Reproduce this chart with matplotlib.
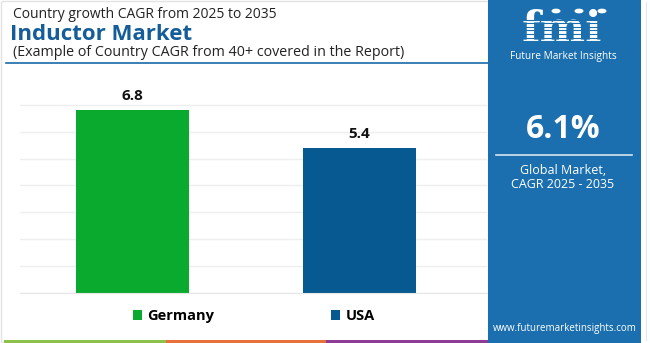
import matplotlib.pyplot as plt
from matplotlib.patches import Rectangle, Patch, Circle
from matplotlib.lines import Line2D

countries = ['Germany', 'USA']
cagr = [6.8, 5.4]
bar_colors = ['#0aaa2e', '#065a91']
global_cagr = '6.1%'

plt.rcParams['font.family'] = ['Open Sans', 'DejaVu Sans']

W, H = 650, 343
fig = plt.figure(figsize=(W / 100, H / 100), dpi=100)


def fx(px):
    return px / W


def fy(py):
    return 1 - py / H


# light frame round the chart area
fig.patches.append(Rectangle((fx(1), fy(342)), fx(487), 341 / H, transform=fig.transFigure,
                             fill=False, edgecolor='#e3e3e3', lw=1))
fig.add_artist(Line2D([fx(646), fx(646)], [fy(2), fy(340)], color='#e6e6e6', lw=0.8))

# titles
fig.text(fx(13), fy(15), 'Country growth CAGR from 2025 to 2035', fontsize=10,
         color='#222222', va='center')
fig.text(fx(10), fy(34), 'Inductor Market', fontsize=16, fontweight='bold',
         color='#155d99', va='center')
fig.text(fx(13), fy(53), '(Example of Country CAGR from 40+ covered in the Report)',
         fontsize=10.3, color='#222222', va='center')
fig.add_artist(Line2D([fx(6), fx(488)], [fy(63), fy(63)], color='#1a6aa8', lw=1.2))

# bar chart
ax = fig.add_axes([fx(20), fy(293), fx(467), 201.6 / H])
ax.bar(range(len(countries)), cagr, width=0.5, color=bar_colors, zorder=2)
ax.set_xlim(-0.496, 1.562)
ax.set_ylim(0, 7.5)
ax.set_yticks(range(0, 8))
ax.yaxis.grid(True, color='#eeeeee', lw=1, zorder=0)
ax.set_xticks([])
ax.tick_params(left=False, labelleft=False)
for s in ['top', 'right', 'left']:
    ax.spines[s].set_visible(False)
ax.spines['bottom'].set_color('#e6e6e6')
for i, v in enumerate(cagr):
    ax.annotate(f'{v}', (i, v), xytext=(0, 5), textcoords='offset points',
                ha='center', va='bottom', fontsize=11, fontweight='bold', color='#111111')

# legend
handles = [Patch(facecolor=c, edgecolor='none') for c in bar_colors]
fig.legend(handles, countries, loc='center', bbox_to_anchor=(fx(254), fy(316)), ncol=2,
           frameon=False, handlelength=0.62, handleheight=0.62, handletextpad=0.35,
           columnspacing=8, prop={'weight': 'bold', 'size': 10.5})

# bottom colour strips
for x0, x1, c in [(4, 166, '#8cc24a'), (166, 326, '#e8703a'), (326, 488, '#8e3b96')]:
    fig.patches.append(Rectangle((fx(x0), 0), fx(x1 - x0), 3 / H, transform=fig.transFigure,
                                 facecolor=c, edgecolor='none'))

# side panel
panel = '#1b6fae'
fig.patches.append(Rectangle((fx(488), 0), fx(153), 1, transform=fig.transFigure,
                             facecolor=panel, edgecolor='none'))

# logo: striped letters
fig.text(fx(562), fy(51), 'fmi', fontsize=31, fontweight='bold', family='DejaVu Serif',
         color='white', ha='center', va='bottom')
for cx in [556, 579, 602]:
    fig.patches.append(Circle((fx(cx), fy(11)), 4.5 / W, transform=fig.transFigure,
                              facecolor='white', edgecolor='none'))
y = 19.5
while y < 44:
    fig.add_artist(Line2D([fx(508), fx(618)], [fy(y), fy(y)], color=panel, lw=0.8, zorder=5))
    y += 3.6
fig.text(fx(563), fy(51.5), 'Future Market Insights', fontsize=7.3, color='white',
         ha='center', va='top')

fig.text(fx(563), fy(129), global_cagr, fontsize=23, fontweight='bold', color='white',
         ha='center', va='center')
fig.add_artist(Line2D([fx(496), fx(632)], [fy(155), fy(155)], color='#d6e4f0', lw=1.2))
fig.text(fx(563), fy(170), 'Global Market,', fontsize=9, color='white', ha='center', va='center')
fig.text(fx(563), fy(185), 'CAGR 2025 - 2035', fontsize=9, color='white', ha='center', va='center')
fig.text(fx(565), fy(328), 'www.futuremarketinsights.com', fontsize=7, color='white',
         ha='center', va='center')

fig.savefig('out.png', dpi=100)
